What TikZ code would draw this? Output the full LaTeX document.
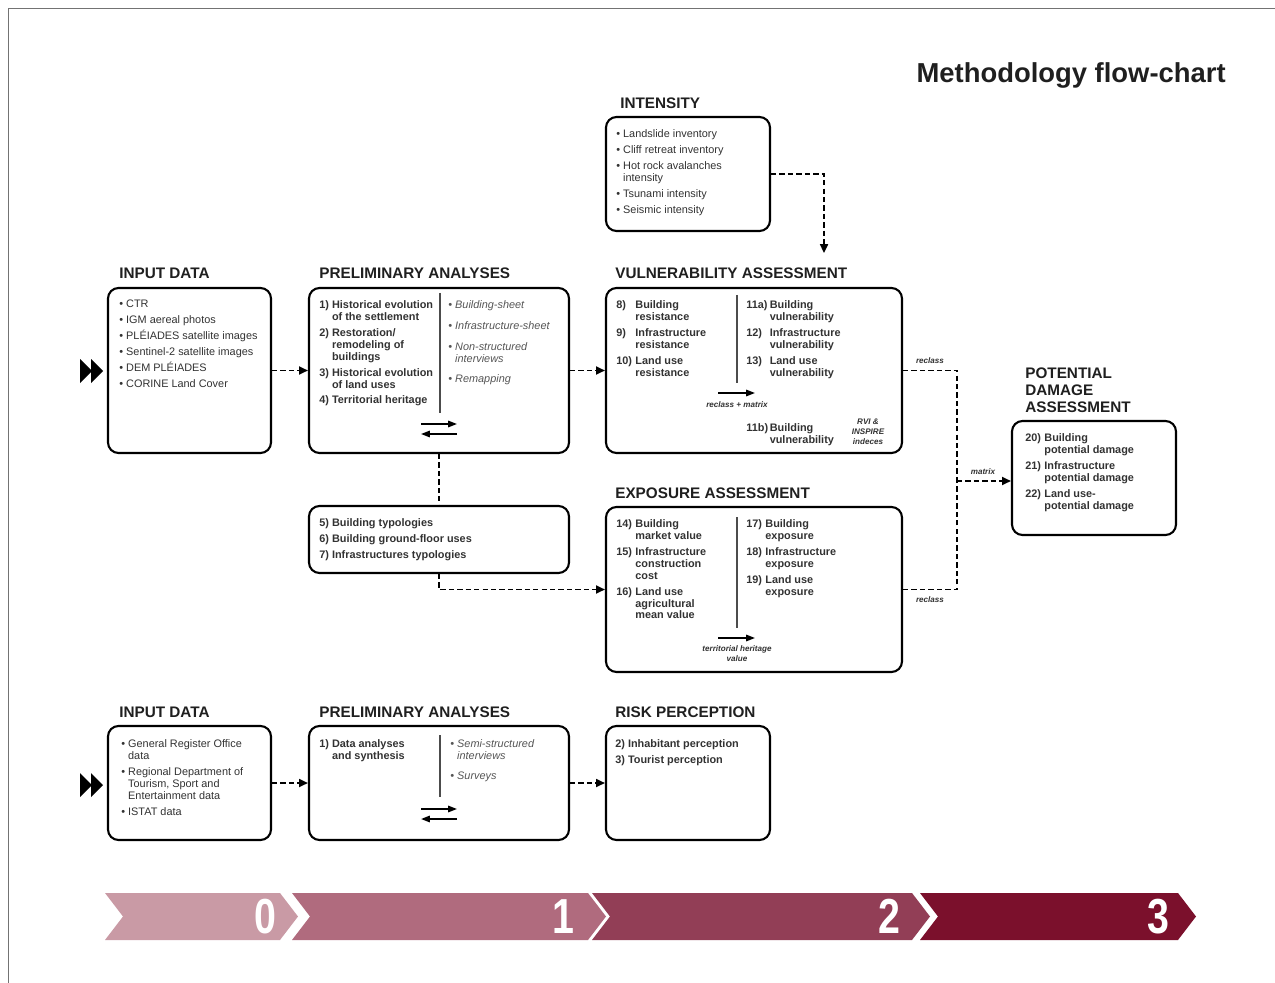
\documentclass[tikz,border=0pt]{standalone}
\usepackage{fontspec}
\setmainfont{Liberation Sans}
\usetikzlibrary{arrows.meta,fit,positioning}

\definecolor{txtgray}{RGB}{50,50,50}
\definecolor{itgray}{RGB}{85,85,85}
\definecolor{chevA}{RGB}{201,154,165}
\definecolor{chevB}{RGB}{176,107,126}
\definecolor{chevC}{RGB}{146,62,86}
\definecolor{chevD}{RGB}{123,16,44}

\newcommand{\bodyfont}{\fontsize{6.2}{6.8}\selectfont}
\newcommand{\numA}[1]{\makebox[1.75em][l]{#1}}
\newcommand{\numB}[1]{\makebox[2.15em][l]{#1}}

\tikzset{
  box/.style={draw, line width=1.2pt, rounded corners=6pt, inner sep=0pt},
  head/.style={anchor=base west, inner sep=0pt, text=black!88,
    font=\fontsize{8.7}{9.6}\selectfont\bfseries},
  body/.style={anchor=north west, align=left, inner sep=0pt, text=txtgray, font=\bodyfont},
  bbody/.style={body, font=\bodyfont\bfseries},
  ibody/.style={body, text=itgray, font=\bodyfont\itshape},
  link/.style={line width=1.1pt, dash pattern=on 3pt off 1.8pt},
  flow/.style={link, -{Triangle[length=5pt,width=4.5pt]}},
  divider/.style={line width=0.6pt, black!70},
  swap/.style={line width=1pt, -{Triangle[length=5pt,width=3.6pt]}},
  tiny/.style={inner sep=0pt, align=center, text=txtgray,
    font=\fontsize{4.6}{5.7}\selectfont\bfseries\itshape},
  stepnum/.style={inner sep=0pt, text=white, font=\fontsize{28}{28}\selectfont\bfseries}
}

\begin{document}
\begin{tikzpicture}[x=0.02cm, y=-0.02cm]
  \useasboundingbox (0,0) rectangle (1275,983);
  % page frame
  \draw[black!55, line width=0.5pt] (8,983) -- (8,8) -- (1275,8);

  \node[anchor=base east, inner sep=0pt, text=black!88, font=\fontsize{15.6}{16}\selectfont\bfseries] (title) at (1226,83) {Methodology flow-chart};

  % boxes
  \node[box, fit={(606,117) (770,231)}] (itA) {};
  \node[box, fit={(108,288) (271,453)}] (inA) {};
  \node[box, fit={(309,288) (569,453)}] (prA) {};
  \node[box, fit={(606,288) (902,453)}] (vuA) {};
  \node[box, fit={(309,506) (569,573)}] (mdA) {};
  \node[box, fit={(606,507) (902,672)}] (exA) {};
  \node[box, fit={(1012,421) (1176,535)}] (pdA) {};
  \node[box, fit={(108,726) (271,840)}] (inB) {};
  \node[box, fit={(309,726) (569,840)}] (prB) {};
  \node[box, fit={(606,726) (770,840)}] (rkB) {};

  % headings
  \node[head] (hIt) at (620,108.5) {INTENSITY};
  \node[head] (hInA) at (119,278.5) {INPUT DATA};
  \node[head] (hPrA) at (319,278.5) {PRELIMINARY ANALYSES};
  \node[head] (hVuA) at (615,278.5) {VULNERABILITY ASSESSMENT};
  \node[head] (hExA) at (615,498.5) {EXPOSURE ASSESSMENT};
  \node[head, anchor=north west, align=left] (hPdA) at (1025,367.5) {POTENTIAL\\DAMAGE\\ASSESSMENT};
  \node[head] (hInB) at (119,717.5) {INPUT DATA};
  \node[head] (hPrB) at (319,717.5) {PRELIMINARY ANALYSES};
  \node[head] (hRkB) at (615,717.5) {RISK PERCEPTION};

  % box contents
  \node[body] (itTxt) at (616,129) {• Landslide inventory\\[2.3pt]• Cliff retreat inventory\\[2.3pt]• Hot rock avalanches\\\phantom{• }intensity\\[2.3pt]• Tsunami intensity\\[2.3pt]• Seismic intensity};
  \node[body] (inATxt) at (119,300) {• CTR\\[2.3pt]• IGM aereal photos\\[2.3pt]• PLÉIADES satellite images\\[2.3pt]• Sentinel-2 satellite images\\[2.3pt]• DEM PLÉIADES\\[2.3pt]• CORINE Land Cover};
  \node[bbody] (prATxt) at (319,300) {1) Historical evolution\\\phantom{1) }of the settlement\\[2.3pt]2) Restoration/\\\phantom{2) }remodeling of\\\phantom{2) }buildings\\[2.3pt]3) Historical evolution\\\phantom{3) }of land uses\\[2.3pt]4) Territorial heritage};
  \node[ibody] (prAIt) at (448,300) {• Building-sheet\\[5.1pt]• Infrastructure-sheet\\[5.1pt]• Non-structured\\\phantom{• }interviews\\[5.1pt]• Remapping};
  \node[bbody] (vuALeft) at (616,300) {\numA{8)}Building\\\numA{}resistance\\[2.3pt]\numA{9)}Infrastructure\\\numA{}resistance\\[2.3pt]\numA{10)}Land use\\\numA{}resistance};
  \node[bbody] (vuARight) at (746,300) {\numB{11a)}Building\\\numB{}vulnerability\\[2.3pt]\numB{12)}Infrastructure\\\numB{}vulnerability\\[2.3pt]\numB{13)}Land use\\\numB{}vulnerability};
  \node[bbody] (vuABld) at (746,423) {\numB{11b)}Building\\\numB{}vulnerability};
  \node[tiny] (rvi) at (868,432) {RVI \&\\INSPIRE\\indeces};
  \node[bbody] (pdATxt) at (1025,433) {\numA{20)}Building\\\numA{}potential damage\\[2.3pt]\numA{21)}Infrastructure\\\numA{}potential damage\\[2.3pt]\numA{22)}Land use-\\\numA{}potential damage};
  \node[bbody] (mdATxt) at (319,518) {5) Building typologies\\[2.3pt]6) Building ground-floor uses\\[2.3pt]7) Infrastructures typologies};
  \node[bbody] (exALeft) at (616,519) {\numA{14)}Building\\\numA{}market value\\[2.3pt]\numA{15)}Infrastructure\\\numA{}construction\\\numA{}cost\\[2.3pt]\numA{16)}Land use\\\numA{}agricultural\\\numA{}mean value};
  \node[bbody] (exARight) at (746,519) {\numA{17)}Building\\\numA{}exposure\\[2.3pt]\numA{18)}Infrastructure\\\numA{}exposure\\[2.3pt]\numA{19)}Land use\\\numA{}exposure};
  \node[body] (inBTxt) at (121,739) {• General Register Office\\\phantom{• }data\\[2.3pt]• Regional Department of\\\phantom{• }Tourism, Sport and\\\phantom{• }Entertainment data\\[2.3pt]• ISTAT data};
  \node[bbody] (prBTxt) at (319,739) {1) Data analyses\\\phantom{1) }and synthesis};
  \node[ibody] (prBIt) at (450,739) {• Semi-structured\\\phantom{• }interviews\\[4.5pt]• Surveys};
  \node[bbody] (rkBTxt) at (615,739) {2) Inhabitant perception\\[2.3pt]3) Tourist perception};

  % column dividers and inner arrows
  \draw[divider] (440,293) -- (440,413);
  \draw[divider] (737,295) -- (737,383);
  \draw[divider] (737,517) -- (737,628);
  \draw[divider] (440,735) -- (440,797);
  \draw[swap] (421,424) -- (457,424);
  \draw[swap] (457,434) -- (421,434);
  \draw[swap] (421,809) -- (457,809);
  \draw[swap] (457,819) -- (421,819);
  \draw[swap] (718,393) -- (755,393);
  \node[tiny] (lblRm) at (737,405) {reclass + matrix};
  \draw[swap] (718,638) -- (755,638);
  \node[tiny] (lblTh) at (737,654) {territorial heritage\\value};

  % start marks
  \fill (80,359) -- (92,371) -- (80,383) -- cycle;
  \fill (91,359) -- (103,371) -- (91,383) -- cycle;
  \fill (80,773) -- (92,785) -- (80,797) -- cycle;
  \fill (91,773) -- (103,785) -- (91,797) -- cycle;

  % connectors
  \coordinate (intEnd) at (824,253);
  \coordinate (jn) at (957,481);
  \draw[flow] (itA.east) -| (intEnd);
  \draw[flow] (inA) -- (prA);
  \draw[flow] (prA) -- (vuA);
  \draw[link] (prA) -- (mdA);
  \draw[flow] (mdA.south) |- (exA);
  \draw[link] (vuA) -| (jn);
  \draw[link] (exA) -| (jn);
  \draw[flow] (jn) -- (jn -| pdA.west);
  \node[tiny] (lblRa) at (930,361) {reclass};
  \node[tiny] (lblMx) at (983,472) {matrix};
  \node[tiny] (lblRb) at (930,600) {reclass};
  \draw[flow] (inB) -- (prB);
  \draw[flow] (prB) -- (rkB);

  % phase chevrons
  \fill[chevA] (105,893) -- (280,893) -- (298,916.5) -- (280,940) -- (105,940) -- (123,916.5) -- cycle;
  \fill[chevB] (292,893) -- (588,893) -- (606,916.5) -- (588,940) -- (292,940) -- (310,916.5) -- cycle;
  \fill[chevC] (592,893) -- (912,893) -- (930,916.5) -- (912,940) -- (592,940) -- (610,916.5) -- cycle;
  \fill[chevD] (920,893) -- (1178,893) -- (1196,916.5) -- (1178,940) -- (920,940) -- (938,916.5) -- cycle;
  \node[stepnum] (s0) at (265,916.5) {\scalebox{0.8}[1]{0}};
  \node[stepnum] (s1) at (563,916.5) {\scalebox{0.8}[1]{1}};
  \node[stepnum] (s2) at (889,916.5) {\scalebox{0.8}[1]{2}};
  \node[stepnum] (s3) at (1158,916.5) {\scalebox{0.8}[1]{3}};
\end{tikzpicture}
\end{document}
